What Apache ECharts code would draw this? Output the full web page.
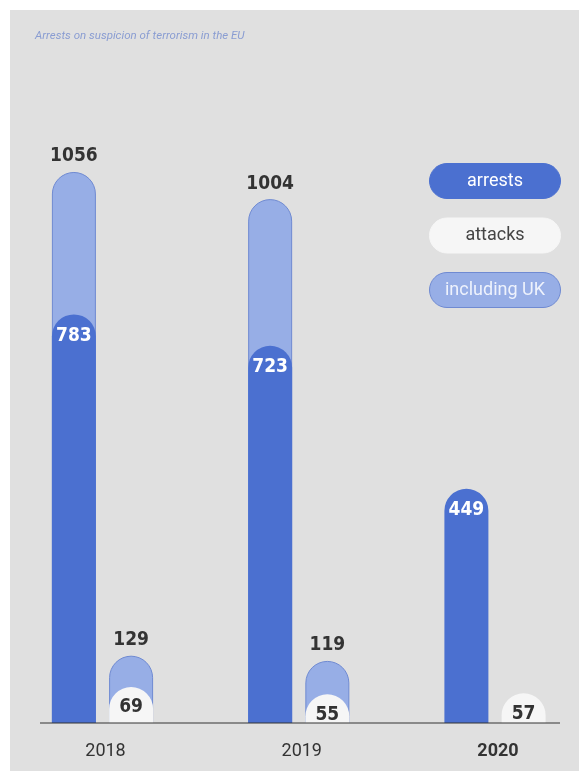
<!DOCTYPE html>
<html>
<head>
<meta charset="utf-8">
<script src="https://cdn.jsdelivr.net/npm/echarts@6/dist/echarts.min.js"></script>
<style>
html,body{margin:0;padding:0;background:#ffffff;}
#chart{position:absolute;left:10px;top:10px;width:569px;height:761px;background:#e0e0e0;}
</style>
</head>
<body>
<div id="chart"></div>
<script>
const years = ['2018', '2019', '2020'];
const arrestsEU = [783, 723, 449];
const attacksEU = [69, 55, 57];
const arrestsInclUK = [1056, 1004, null];
const attacksInclUK = [129, 119, null];
const legendItems = ['arrests', 'attacks', 'including UK'];
const titleText = 'Arrests on suspicion of terrorism in the EU';

const DARK = '#4b70d0';
const LIGHT = '#97aee6';
const LIGHT_BORDER = '#6f8ad2';
const WHITE = '#f6f6f6';
const numFont = "'DejaVu Sans Condensed', 'Liberation Sans Narrow', 'Roboto', sans-serif";

const chart = echarts.init(document.getElementById('chart'), null, {renderer: 'canvas'});

function numLabel(pos, color, dist) {
  return {
    show: true, position: pos, distance: dist, color: color,
    fontFamily: numFont, fontWeight: 'bold', fontSize: 19
  };
}
const radius = [22, 22, 0, 0];

const legendStyles = [
  {fill: DARK, stroke: DARK, text: '#ffffff'},
  {fill: WHITE, stroke: WHITE, text: '#444444'},
  {fill: LIGHT, stroke: LIGHT_BORDER, text: '#eef2fc'}
];
const legendGraphics = legendItems.map((name, i) => ({
  type: 'group', left: 419, top: 153 + i * 54.5,
  children: [
    {type: 'rect', shape: {x: 0, y: 0, width: 131, height: 35, r: 17.5},
     style: {fill: legendStyles[i].fill, stroke: legendStyles[i].stroke, lineWidth: 1}},
    {type: 'text', style: {x: 65.5, y: 17.5, text: name, textAlign: 'center', textVerticalAlign: 'middle',
      fill: legendStyles[i].text, fontSize: 18, fontFamily: 'Roboto, sans-serif'}}
  ]
}));

const option = {
  backgroundColor: '#e0e0e0',
  animation: false,
  title: {
    text: titleText, left: 20, top: 15,
    textStyle: {color: '#8a9dd2', fontSize: 11.5, fontStyle: 'italic', fontWeight: 'normal', fontFamily: 'Roboto, sans-serif'}
  },
  grid: {left: 92.5, right: 84, top: 139, bottom: 48},
  xAxis: [
    {
      type: 'category', data: years.map((y, i) => i === years.length - 1 ? {value: y, textStyle: {fontWeight: 'bold'}} : y),
      boundaryGap: false,
      axisLine: {show: false}, axisTick: {show: false}, splitLine: {show: false},
      axisLabel: {color: '#333333', fontSize: 18, margin: 19, padding: [0, 0, 0, 6], fontFamily: 'Roboto, sans-serif'}
    },
    {
      type: 'category', data: years, boundaryGap: false, show: false
    }
  ],
  yAxis: {type: 'value', min: 0, max: 1100, show: false, splitLine: {show: false}},
  graphic: [
    {type: 'line', shape: {x1: 30, y1: 713, x2: 550, y2: 713}, style: {stroke: '#333333', lineWidth: 1.2}, z: 100}
  ].concat(legendGraphics),
  series: [
    {
      name: 'including UK', type: 'bar', xAxisIndex: 0, data: arrestsInclUK,
      barWidth: 44, barGap: '30%', z: 2,
      itemStyle: {color: LIGHT, borderColor: LIGHT_BORDER, borderWidth: 1, borderRadius: radius},
      label: numLabel('top', '#333333', 6)
    },
    {
      name: 'including UK', type: 'bar', xAxisIndex: 0, data: attacksInclUK,
      barWidth: 44, barGap: '30%', z: 2,
      itemStyle: {color: LIGHT, borderColor: LIGHT_BORDER, borderWidth: 1, borderRadius: radius},
      label: numLabel('top', '#333333', 6)
    },
    {
      name: 'arrests', type: 'bar', xAxisIndex: 1, data: arrestsEU,
      barWidth: 44, barGap: '30%', z: 3,
      itemStyle: {color: DARK, borderRadius: radius},
      label: numLabel('insideTop', '#ffffff', 12)
    },
    {
      name: 'attacks', type: 'bar', xAxisIndex: 1, data: attacksEU,
      barWidth: 44, barGap: '30%', z: 3,
      itemStyle: {color: WHITE, borderRadius: radius},
      label: numLabel('insideTop', '#333333', 11)
    }
  ]
};
chart.setOption(option);
</script>
</body>
</html>
